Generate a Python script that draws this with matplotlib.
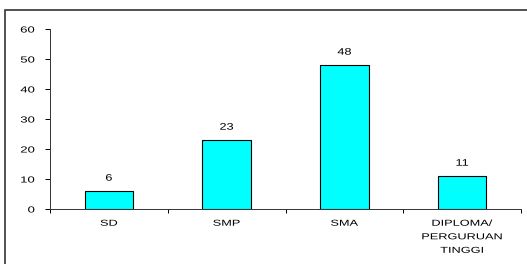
import matplotlib.pyplot as plt
from matplotlib.patches import Rectangle
from matplotlib.patheffects import AbstractPathEffect
from matplotlib.transforms import Affine2D

categories = ["SD", "SMP", "SMA", "DIPLOMA/\nPERGURUAN\nTINGGI"]
values = [6, 23, 48, 11]

plt.rcParams['font.family'] = ['Liberation Sans', 'DejaVu Sans']


class Stretch(AbstractPathEffect):
    # widen glyphs horizontally (the original chart is squashed vertically)
    def __init__(self, sx, anchor='center'):
        super().__init__()
        self.sx, self.anchor = sx, anchor

    def draw_path(self, renderer, gc, tpath, affine, rgbFace=None):
        ext = tpath.get_extents()
        x0 = {'left': ext.x0, 'right': ext.x1,
              'center': (ext.x0 + ext.x1) / 2}[self.anchor]
        t = Affine2D().translate(-x0, 0).scale(self.sx, 1).translate(x0, 0) + affine
        renderer.draw_path(gc, tpath, t, rgbFace)


fig = plt.figure(figsize=(5.27, 2.64), dpi=100)
fig.patches.append(Rectangle((5 / 527, -0.1), 1.2, (264 - 10.5) / 264 + 0.1,
                             transform=fig.transFigure, fill=False,
                             edgecolor='#333333', linewidth=1.2, zorder=0))

ax = fig.add_axes([50 / 527, 55 / 264, 471 / 527, 180 / 264])
x = range(len(categories))
ax.bar(x, values, width=0.41, color='#00FFFF', edgecolor='black', linewidth=0.8)
for xi, v in zip(x, values):
    ax.annotate(str(v), (xi, v), xytext=(0, 6), textcoords='offset points',
                ha='center', va='bottom', fontsize=6.8,
                path_effects=[Stretch(1.35)])

ax.set_xlim(-0.5, 3.5)
ax.set_ylim(0, 60)
ax.set_yticks(range(0, 61, 10))
ax.tick_params(axis='y', labelsize=6.3, length=3.5, width=0.7, pad=7.5)
ax.set_xticks(list(x))
ax.set_xticklabels(categories, fontsize=6.2, linespacing=1.65)
ax.tick_params(axis='x', length=0, pad=7)
ax.set_xticks([-0.5, 0.5, 1.5, 2.5, 3.5], minor=True)
ax.tick_params(axis='x', which='minor', length=3, width=0.7)
for lbl in ax.get_yticklabels():
    lbl.set_path_effects([Stretch(1.5, 'right')])
for lbl in ax.get_xticklabels():
    lbl.set_path_effects([Stretch(1.48)])
for s in ['top', 'right']:
    ax.spines[s].set_visible(False)
for s in ['left', 'bottom']:
    ax.spines[s].set_linewidth(0.7)
    ax.spines[s].set_color('#333333')

fig.savefig("out.png", dpi=100)
